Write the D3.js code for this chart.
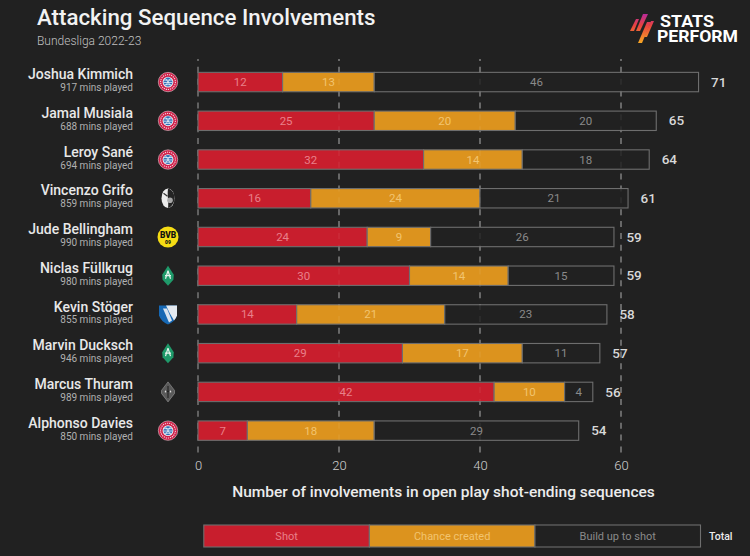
<!DOCTYPE html>
<html><head><meta charset="utf-8">
<script src="https://cdn.jsdelivr.net/npm/d3@7"></script>
<style>html,body{margin:0;padding:0;background:#212121}svg{display:block}text{font-family:Roboto,sans-serif}</style>
</head><body><svg id="c" width="750" height="556"></svg>
<script>
const players=["Joshua Kimmich","Jamal Musiala","Leroy Sané","Vincenzo Grifo","Jude Bellingham","Niclas Füllkrug","Kevin Stöger","Marvin Ducksch","Marcus Thuram","Alphonso Davies"];
const minutes=[917,688,694,859,990,980,855,946,989,850];
const clubs=["bayern","bayern","bayern","freiburg","dortmund","bremen","bochum","bremen","gladbach","bayern"];
const shot=[12,25,32,16,24,30,14,29,42,7];
const chance=[13,20,14,24,9,14,21,17,10,18];
const buildUp=[46,20,18,21,26,15,23,11,4,29];
const totals=[71,65,64,61,59,59,58,57,56,54];
const xTicks=[0,20,40,60];
const legendLabels=["Shot","Chance created","Build up to shot"];
const colors=["#c81e2d","#dc931e","#212121"];
const textColors=["#e8808a","#f2c46f","#8a8a8a"];
const stroke="#6e6e6e";

const svg=d3.select("#c");
svg.append("rect").attr("width",750).attr("height",556).attr("fill","#212121");
const x=d3.scaleLinear().domain([0,60]).range([198,621]);
const y=d3.scaleBand().domain(players).range([62.7,450]).paddingInner(0.5).paddingOuter(0.25);
const bh=19.4;
const cy=p=>y(p)+y.bandwidth()/2;

svg.append("text").attr("x",37).attr("y",25).attr("font-size",22.3).attr("font-weight",500).attr("fill","#f2f2f2").text("Attacking Sequence Involvements");
svg.append("text").attr("x",37).attr("y",44.7).attr("font-size",12).attr("font-weight",300).attr("fill","#c0c0c0").text("Bundesliga 2022-23");

// logo
const defs=svg.append("defs");
const g1=defs.append("linearGradient").attr("id","sp").attr("gradientUnits","userSpaceOnUse").attr("x1",0).attr("y1",0).attr("x2",0).attr("y2",29);
g1.append("stop").attr("offset","0").attr("stop-color","#b92a9a");
g1.append("stop").attr("offset","0.4").attr("stop-color","#e8433f");
g1.append("stop").attr("offset","1").attr("stop-color","#f7a823");
const lg=svg.append("g").attr("transform","translate(630,14)");
["M0,17 L6,5 L9,5 L4,17Z","M6,17 L13,0 L18,0 L10,17Z","M8,29 L12,29 L21,8 L17,8Z","M14,23 L17,23 L24,7 L21,7Z"].forEach(d=>lg.append("path").attr("d",d).attr("fill","url(#sp)"));
svg.append("text").attr("x",660).attr("y",27).attr("font-size",16).attr("font-weight",700).attr("fill","#fff").attr("textLength",54).attr("lengthAdjust","spacingAndGlyphs").text("STATS");
svg.append("text").attr("x",657).attr("y",42).attr("font-size",16).attr("font-weight",700).attr("fill","#fff").attr("textLength",81).attr("lengthAdjust","spacingAndGlyphs").text("PERFORM");

// grid under bars
const dash="6 5.86";
const grid=svg.append("g");
xTicks.forEach(t=>grid.append("line").attr("x1",x(t)).attr("x2",x(t)).attr("y1",59).attr("y2",454).attr("stroke","#8c8c8c").attr("stroke-width",1.2).attr("stroke-dasharray",dash).attr("stroke-dashoffset",4));

// bars
players.forEach((p,i)=>{
  const vals=[shot[i],chance[i],buildUp[i]];
  let acc=0;
  vals.forEach((v,k)=>{
    svg.append("rect").attr("x",x(acc)).attr("y",cy(p)-bh/2).attr("width",x(acc+v)-x(acc)).attr("height",bh)
      .attr("fill",colors[k]).attr("stroke",stroke).attr("stroke-width",1.1);
    svg.append("text").attr("x",x(acc+v/2)).attr("y",cy(p)+4).attr("text-anchor","middle").attr("font-size",11.5).attr("fill",textColors[k]).text(v);
    acc+=v;
  });
  svg.append("text").attr("x",x(totals[i])+12.5).attr("y",cy(p)+4.6).attr("font-size",13.5).attr("font-weight",500).attr("fill","#d8d8d8").text(totals[i]);
  svg.append("text").attr("x",133).attr("y",cy(p)-2.8).attr("text-anchor","end").attr("font-size",14).attr("font-weight",500).attr("fill","#e8e8e8").text(p);
  svg.append("text").attr("x",133).attr("y",cy(p)+9).attr("text-anchor","end").attr("font-size",10).attr("fill","#b0b0b0").text(minutes[i]+" mins played");
  crest(clubs[i],168,cy(p));
});
// faint grid over bars
xTicks.slice(1).forEach(t=>svg.append("line").attr("x1",x(t)).attr("x2",x(t)).attr("y1",59).attr("y2",454).attr("stroke","#fff").attr("stroke-opacity",0.08).attr("stroke-width",1.2).attr("stroke-dasharray",dash).attr("stroke-dashoffset",4));

function crest(c,cx,cyy){
  const g=svg.append("g").attr("transform",`translate(${cx},${cyy})`);
  if(c==="bayern"){
    g.append("circle").attr("r",9.7).attr("fill","#cf1f48").attr("stroke","#e6c9d2").attr("stroke-width",.6);
    g.append("circle").attr("r",7.4).attr("fill","none").attr("stroke","#f3d7df").attr("stroke-width",1.1).attr("stroke-dasharray","1.2 0.9");
    g.append("circle").attr("r",5.4).attr("fill","#f2f2f2");
    g.append("circle").attr("r",4.5).attr("fill","#2f6fb8");
    g.append("path").attr("d","M-4.2,-2H4.2M-4.4,0.4H4.4M-3.4,2.6H3.4M-2.4,-3.6L2.4,3.6M2.4,-3.6L-2.4,3.6").attr("stroke","#e9f0f8").attr("stroke-width",.8);
  } else if(c==="freiburg"){
    g.append("ellipse").attr("rx",6.5).attr("ry",9.8).attr("fill","#ececec");
    g.append("path").attr("d","M0,-9.5 C4,-9 6.5,-5 6.5,0 C6.5,5 3,9 0,9.8 C1,5 -1,-3 0,-9.5Z").attr("fill","#242424");
    g.append("circle").attr("cx",2).attr("cy",2).attr("r",2.8).attr("fill","#a8a8a8");
    g.append("path").attr("d","M-4.5,-5 L-0.5,-2").attr("stroke","#333").attr("stroke-width",1.2);
  } else if(c==="dortmund"){
    g.append("circle").attr("r",10.5).attr("fill","#f5dc14");
    g.append("text").attr("y",1).attr("text-anchor","middle").attr("font-size",8.4).attr("font-weight",900).attr("fill","#111").text("BVB");
    g.append("text").attr("y",7.5).attr("text-anchor","middle").attr("font-size",5).attr("font-weight",900).attr("fill","#111").text("09");
  } else if(c==="bremen"){
    g.append("path").attr("d","M0,-10 L5.8,-1 L5.4,4 L0,10 L-5.4,4 L-5.8,-1Z").attr("fill","#1f9a6a");
    g.append("path").attr("d","M0,-5 L-2.5,3 M0,-5 L2.5,3 M-3,0H3").attr("stroke","#e8f4ee").attr("stroke-width",1.2);
  } else if(c==="bochum"){
    g.append("path").attr("d","M-9,-9 L9,-9 L9,1 Q7,7 0,10 Q-7,7 -9,1Z").attr("fill","#1668b4");
    g.append("path").attr("d","M-2,-9 L9,-9 L9,1 Q8,4 6,6 Q1,-2 -2,-9Z").attr("fill","#e4e9ef");
    g.append("path").attr("d","M-5,-6 L-1,-6 L4,6 L1,8 Z").attr("fill","#d8e4f0");
  } else {
    g.append("path").attr("d","M0,-10 L6.5,-1.5 L6.5,1.5 L0,10 L-6.5,1.5 L-6.5,-1.5Z").attr("fill","#5a5a5a").attr("stroke","#9a9a9a").attr("stroke-width",.6);
    g.append("path").attr("d","M-4,-0.5H4M0,-6V6").attr("stroke","#222").attr("stroke-width",1.1);
    g.append("circle").attr("cx",-2.5).attr("cy",-0.5).attr("r",1).attr("fill","#ddd");
    g.append("circle").attr("cx",2.5).attr("cy",-0.5).attr("r",1).attr("fill","#ddd");
  }
}

// x axis
const ax=svg.append("g").attr("transform","translate(0,470)").call(d3.axisBottom(x).tickValues(xTicks).tickSize(0).tickPadding(0));
ax.select(".domain").remove();
ax.selectAll("text").attr("font-size",13).attr("font-weight",300).attr("fill","#d0d0d0").attr("font-family","Roboto,sans-serif").attr("dy",0).attr("y",0);
svg.append("text").attr("x",443.5).attr("y",497).attr("text-anchor","middle").attr("font-size",15.5).attr("font-weight",500).attr("fill","#ececec").text("Number of involvements in open play shot-ending sequences");

// legend
const lx=d3.scaleBand().domain(legendLabels).range([203.8,700.5]);
legendLabels.forEach((l,k)=>{
  svg.append("rect").attr("x",lx(l)).attr("y",525).attr("width",lx.bandwidth()).attr("height",22).attr("fill",colors[k]).attr("stroke",stroke).attr("stroke-width",1.1);
  svg.append("text").attr("x",lx(l)+lx.bandwidth()/2).attr("y",540).attr("text-anchor","middle").attr("font-size",11).attr("fill",textColors[k]).text(l);
});
svg.append("text").attr("x",709).attr("y",540).attr("font-size",10.5).attr("font-weight",500).attr("fill","#ececec").text("Total");
</script></body></html>
